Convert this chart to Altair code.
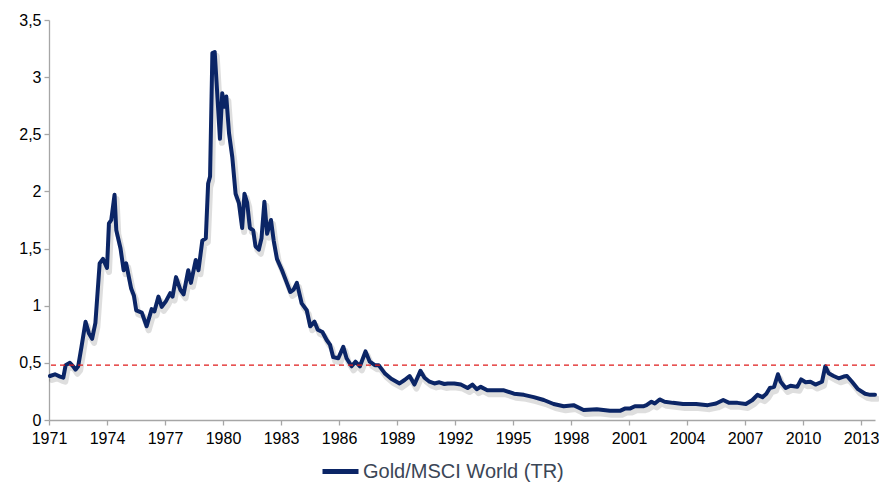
import altair as alt
import pandas as pd

# ---- data ----
years = [
    1971.05, 1971.31, 1971.57, 1971.74, 1971.86, 1972.08, 1972.25, 1972.37, 1972.51, 1972.68,
    1972.89, 1973.06, 1973.23, 1973.40, 1973.62, 1973.79, 1974.00, 1974.10, 1974.22, 1974.39,
    1974.48, 1974.70, 1974.86, 1974.99, 1975.25, 1975.39, 1975.51, 1975.80, 1976.05, 1976.31,
    1976.45, 1976.66, 1976.83, 1977.05, 1977.27, 1977.39, 1977.57, 1977.79, 1977.96, 1978.20,
    1978.34, 1978.59, 1978.73, 1978.93, 1979.11, 1979.23, 1979.33, 1979.45, 1979.57, 1979.70,
    1979.84, 1979.96, 1980.05, 1980.17, 1980.31, 1980.48, 1980.65, 1980.82, 1980.99, 1981.11,
    1981.25, 1981.39, 1981.56, 1981.68, 1981.85, 1981.99, 1982.14, 1982.28, 1982.48, 1982.62,
    1982.79, 1983.05, 1983.30, 1983.48, 1983.65, 1983.82, 1984.07, 1984.33, 1984.51, 1984.73,
    1984.90, 1985.14, 1985.36, 1985.53, 1985.70, 1985.96, 1986.22, 1986.39, 1986.65, 1986.85,
    1987.08, 1987.37, 1987.59, 1987.85, 1988.05, 1988.36, 1988.70, 1989.13, 1989.39, 1989.65,
    1989.90, 1990.21, 1990.42, 1990.68, 1990.93, 1991.19, 1991.45, 1991.62, 1991.96, 1992.30,
    1992.65, 1992.90, 1993.12, 1993.33, 1993.67, 1994.19, 1994.53, 1995.05, 1995.56, 1996.07,
    1996.59, 1997.10, 1997.62, 1998.13, 1998.65, 1999.33, 2000.01, 2000.53, 2000.78, 2001.04,
    2001.30, 2001.73, 2001.90, 2002.16, 2002.33, 2002.58, 2002.84, 2003.27, 2003.79, 2004.47,
    2005.07, 2005.50, 2005.87, 2006.18, 2006.61, 2007.04, 2007.38, 2007.64, 2007.90, 2008.10,
    2008.28, 2008.50, 2008.70, 2008.84, 2009.10, 2009.35, 2009.70, 2009.90, 2010.13, 2010.38,
    2010.64, 2010.98, 2011.15, 2011.32, 2011.58, 2011.84, 2012.10, 2012.27, 2012.53, 2012.84,
    2013.21, 2013.47, 2013.72,
]
values = [
    0.385, 0.40, 0.38, 0.37, 0.48, 0.50, 0.47, 0.44, 0.47, 0.64,
    0.86, 0.76, 0.71, 0.85, 1.37, 1.41, 1.33, 1.72, 1.75, 1.97,
    1.66, 1.50, 1.31, 1.37, 1.15, 1.09, 0.96, 0.94, 0.82, 0.97,
    0.95, 1.08, 0.99, 1.04, 1.11, 1.08, 1.25, 1.14, 1.10, 1.31,
    1.20, 1.40, 1.31, 1.57, 1.59, 2.07, 2.13, 3.21, 3.22, 2.86,
    2.46, 2.86, 2.74, 2.83, 2.51, 2.30, 1.98, 1.90, 1.68, 1.98,
    1.90, 1.68, 1.66, 1.52, 1.49, 1.59, 1.91, 1.63, 1.75, 1.57,
    1.41, 1.31, 1.20, 1.12, 1.14, 1.20, 1.02, 0.96, 0.82, 0.86,
    0.79, 0.77, 0.70, 0.66, 0.55, 0.54, 0.64, 0.54, 0.47, 0.51,
    0.47, 0.60, 0.51, 0.48, 0.48, 0.41, 0.36, 0.32, 0.35, 0.385,
    0.31, 0.43, 0.37, 0.335, 0.32, 0.33, 0.315, 0.32, 0.32, 0.31,
    0.28, 0.31, 0.27, 0.29, 0.26, 0.26, 0.26, 0.23, 0.22, 0.20,
    0.175, 0.14, 0.12, 0.13, 0.087, 0.094, 0.08, 0.08, 0.10, 0.10,
    0.12, 0.12, 0.13, 0.16, 0.145, 0.18, 0.16, 0.15, 0.14, 0.14,
    0.13, 0.145, 0.175, 0.15, 0.15, 0.14, 0.175, 0.22, 0.20, 0.23,
    0.28, 0.29, 0.40, 0.335, 0.28, 0.30, 0.29, 0.355, 0.33, 0.335,
    0.31, 0.335, 0.47, 0.41, 0.385, 0.365, 0.38, 0.385, 0.335, 0.27,
    0.23, 0.22, 0.22,
]
x_tick_years = [1971, 1974, 1977, 1980, 1983, 1986, 1989, 1992, 1995, 1998, 2001, 2004, 2007, 2010, 2013]
y_ticks = [0, 0.5, 1, 1.5, 2, 2.5, 3, 3.5]
threshold = [0.48]
series_name = "Gold/MSCI World (TR)"

df = pd.DataFrame({"year": years, "value": values, "series": series_name})
df_thr = pd.DataFrame({"thr": threshold})

FONT = "Liberation Sans"
NAVY = "#0b2566"

x_enc = alt.X(
    "year:Q",
    scale=alt.Scale(domain=[1971, 2013.72], nice=False, zero=False),
    axis=alt.Axis(values=x_tick_years, format="d", title=None, grid=False,
                  labelPadding=5, labelFlush=False, labelOverlap=False),
)
y_enc = alt.Y(
    "value:Q",
    scale=alt.Scale(domain=[0, 3.5], nice=False),
    axis=alt.Axis(values=y_ticks, title=None, grid=False, labelPadding=3,
                  labelExpr="replace(format(datum.value, '.1~f'), '.', ',')"),
)

shadow = alt.Chart(df).mark_line(
    color="#000000", opacity=0.13, strokeWidth=6, xOffset=2, yOffset=4,
    strokeJoin="round", strokeCap="round",
).encode(x=x_enc, y=y_enc)

line = alt.Chart(df).mark_line(
    strokeWidth=4, strokeJoin="round", strokeCap="round",
).encode(
    x=x_enc,
    y=y_enc,
    color=alt.Color(
        "series:N",
        scale=alt.Scale(range=[NAVY]),
        legend=alt.Legend(
            title=None, orient="none", legendX=271, legendY=431,
            symbolType="stroke", symbolSize=1296, symbolStrokeWidth=5,
            labelFontSize=20, labelColor="#3b4656", labelFont=FONT,
            labelOffset=2, labelLimit=400,
        ),
    ),
)

rule = alt.Chart(df_thr).mark_rule(
    color="#e01b1b", strokeDash=[5, 4], strokeWidth=1.3,
).encode(y=alt.Y("thr:Q", scale=alt.Scale(domain=[0, 3.5], nice=False)))

chart = (
    alt.layer(shadow, line, rule)
    .properties(
        width=826, height=400,
        autosize=alt.AutoSizeParams(type="none"),
        padding={"left": 41, "top": 12, "right": 4, "bottom": 66},
        background="white",
    )
    .configure_view(stroke=None)
    .configure_axis(
        labelFont=FONT, labelFontSize=16, labelColor="#000000",
        domainColor="#a6a6a6", domainWidth=1.3, tickColor="#a6a6a6",
        tickSize=5, tickWidth=1.3,
    )
)

chart.save("out.html", embed_options={"renderer": "svg", "actions": False})
